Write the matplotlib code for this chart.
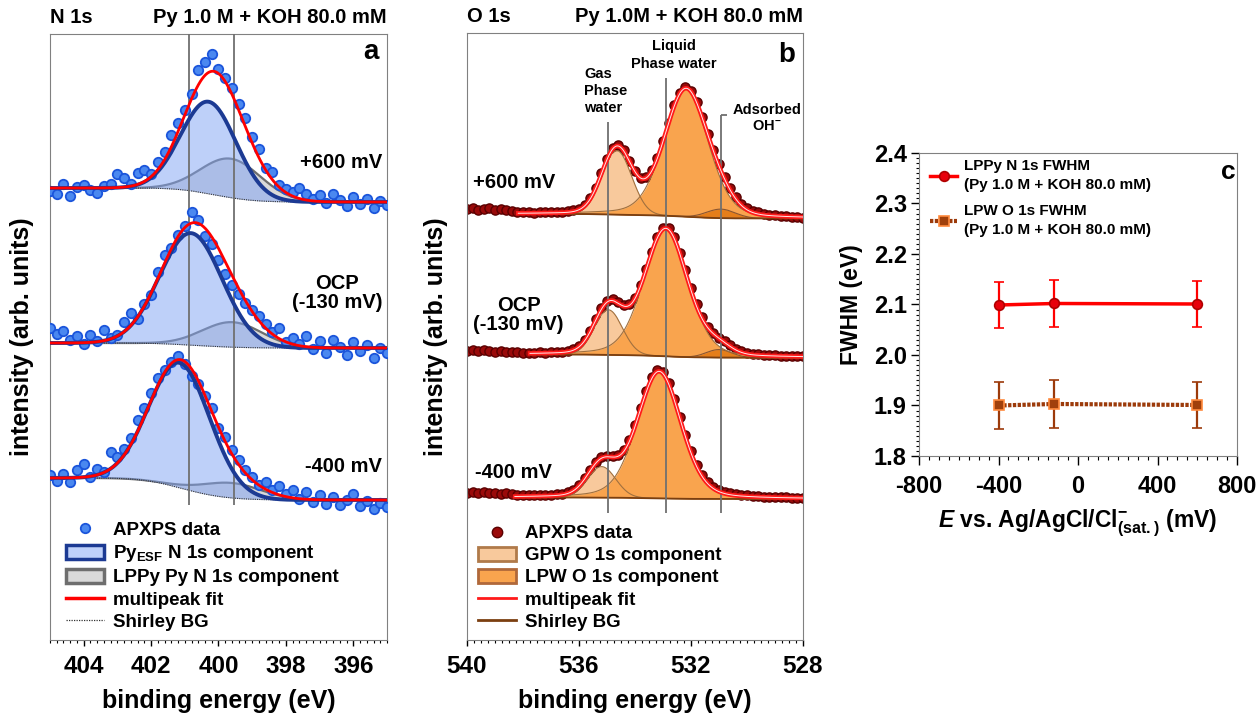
import numpy as np
import matplotlib
matplotlib.use('Agg')
import matplotlib.pyplot as plt
from matplotlib.lines import Line2D
from matplotlib.patches import Patch
from matplotlib.ticker import MultipleLocator

plt.rcParams.update({
    'font.family': ['Liberation Sans', 'DejaVu Sans'],
    'font.weight': 'bold',
    'axes.labelweight': 'bold',
    'mathtext.fontset': 'custom',
    'mathtext.rm': 'Liberation Sans:bold',
    'mathtext.bf': 'Liberation Sans:bold',
    'mathtext.it': 'Liberation Sans:bold:italic',
    'axes.unicode_minus': False,
})

# ---------------- Panel a : N 1s ----------------
N1S_ENERGY = [405.0, 404.8, 404.6, 404.4, 404.2, 404.0, 403.8, 403.6, 403.4, 403.2,
              403.0, 402.8, 402.6, 402.4, 402.2, 402.0, 401.8, 401.6, 401.4, 401.2,
              401.0, 400.8, 400.6, 400.4, 400.2, 400.0, 399.8, 399.6, 399.4, 399.2,
              399.0, 398.8, 398.6, 398.4, 398.2, 398.0, 397.8, 397.6, 397.4, 397.2,
              397.0, 396.8, 396.6, 396.4, 396.2, 396.0, 395.8, 395.6, 395.4, 395.2, 395.0]
N1S_P600 = [449, 446, 456, 444, 453, 455, 450, 447, 454, 456,
            466, 462, 456, 467, 470, 466, 478, 488, 505, 517,
            530, 546, 570, 578, 586, 571, 562, 552, 536, 522,
            503, 491, 472, 468, 455, 451, 448, 452, 446, 441,
            445, 437, 446, 440, 434, 443, 436, 441, 432, 439, 435]
N1S_OCP = [312, 306, 309, 300, 304, 296, 305, 299, 310, 302,
           305, 318, 327, 321, 336, 345, 368, 385, 392, 405,
           414, 428, 420, 404, 396, 380, 366, 355, 346, 337,
           330, 324, 316, 308, 312, 298, 302, 296, 304, 291,
           299, 287, 300, 293, 285, 298, 289, 295, 282, 292, 287]
N1S_M400 = [165, 159, 166, 158, 170, 176, 163, 171, 168, 188,
            183, 191, 202, 220, 232, 247, 262, 270, 278, 284,
            276, 264, 256, 244, 232, 212, 203, 190, 180, 170,
            163, 155, 158, 150, 154, 146, 150, 141, 148, 138,
            145, 136, 143, 135, 140, 146, 134, 139, 131, 137, 133]
N1S_LABELS = ['+600 mV', 'OCP\n(-130 mV)', '-400 mV']
N1S_ESF_CENTER = [400.29, 400.82, 401.15]
N1S_ESF_HEIGHT = [92, 112, 125]
N1S_ESF_FWHM = [1.93, 2.18, 2.13]
N1S_LPPY_CENTER = [399.62, 399.60, 399.60]
N1S_LPPY_HEIGHT = [39, 25, 15]
N1S_LPPY_FWHM = [2.10, 2.10, 2.10]
N1S_BG_HIGH = [452, 297, 162]
N1S_BG_LOW = [438, 292, 140]
N1S_MARKERS = [400.88, 399.55]

# ---------------- Panel b : O 1s ----------------
O1S_ENERGY = [540.0, 539.8, 539.6, 539.4, 539.2, 539.0, 538.8, 538.6, 538.4, 538.2,
              538.0, 537.8, 537.6, 537.4, 537.2, 537.0, 536.8, 536.6, 536.4, 536.2,
              536.0, 535.8, 535.6, 535.4, 535.2, 535.0, 534.8, 534.6, 534.4, 534.2,
              534.0, 533.8, 533.6, 533.4, 533.2, 533.0, 532.8, 532.6, 532.4, 532.2,
              532.0, 531.8, 531.6, 531.4, 531.2, 531.0, 530.8, 530.6, 530.4, 530.2,
              530.0, 529.8, 529.6, 529.4, 529.2, 529.0, 528.8, 528.6, 528.4, 528.2, 528.0]
O1S_P600 = [431, 432, 430, 431, 432, 430, 431, 430, 429, 428,
            428, 428, 427, 428, 428, 428, 428, 428, 429, 430,
            431, 435, 442, 452, 467, 481, 492, 495, 490, 479,
            469, 462, 463, 470, 482, 499, 517, 535, 547, 553,
            549, 538, 523, 506, 490, 476, 463, 452, 443, 436,
            432, 429, 428, 426, 425, 425, 424, 424, 423, 423, 422]
O1S_OCP = [289, 290, 289, 290, 289, 288, 289, 288, 288, 288,
           287, 287, 287, 288, 287, 288, 288, 288, 289, 291,
           294, 300, 309, 321, 332, 339, 341, 338, 335, 336,
           342, 355, 371, 388, 403, 412, 412, 403, 387, 370,
           352, 336, 323, 313, 307, 302, 299, 295, 291, 289,
           287, 286, 286, 285, 285, 285, 284, 284, 284, 284, 284]
O1S_M400 = [147, 148, 147, 148, 147, 147, 146, 147, 146, 145,
            145, 145, 145, 145, 145, 145, 146, 146, 148, 150,
            155, 162, 170, 178, 183, 184, 184, 185, 190, 200,
            215, 232, 249, 263, 270, 268, 257, 241, 223, 205,
            189, 175, 165, 158, 153, 150, 148, 147, 146, 145,
            145, 144, 144, 143, 143, 143, 143, 143, 142, 142, 142]
O1S_LABELS = ['+600 mV', 'OCP\n(-130 mV)', '-400 mV']
O1S_GPW_CENTER = [534.65, 534.95, 535.19]
O1S_GPW_HEIGHT = [64, 45, 31]
O1S_GPW_FWHM = [1.25, 1.18, 1.18]
O1S_LPW_CENTER = [532.18, 532.90, 533.14]
O1S_LPW_HEIGHT = [128, 128, 127]
O1S_LPW_FWHM = [1.85, 1.85, 1.85]
O1S_LPW_LORENTZ = 0.25
O1S_OH_CENTER = [530.93, 531.00, 531.00]
O1S_OH_HEIGHT = [9, 8, 0]
O1S_OH_FWHM = [1.20, 1.06, 1.06]
O1S_BG_HIGH = [426.0, 285.5, 142.5]
O1S_BG_LOW = [421.5, 282.3, 141.0]
O1S_FIT_START = [538.17, 537.75, 538.29]
O1S_MARKERS = [534.97, 532.90, 530.93]

# ---------------- Panel c : FWHM ----------------
E_MV = [-400, -120, 600]
LPPY_N1S_FWHM = [2.099, 2.102, 2.101]
LPPY_N1S_ERR = [0.046, 0.046, 0.046]
LPW_O1S_FWHM = [1.900, 1.903, 1.901]
LPW_O1S_ERR = [0.046, 0.047, 0.046]


def gauss(x, c, h, fwhm):
    return h * np.exp(-4 * np.log(2) * (x - c) ** 2 / fwhm ** 2)


def pvoigt(x, c, h, fwhm, eta):
    g = np.exp(-4 * np.log(2) * (x - c) ** 2 / fwhm ** 2)
    lor = 1.0 / (1.0 + 4 * (x - c) ** 2 / fwhm ** 2)
    return h * ((1 - eta) * g + eta * lor)


def shirley(x_asc, peaks, low, high):
    cum = np.cumsum(peaks)
    return low + (high - low) * cum / cum[-1]


W, H = 1259, 713
fig = plt.figure(figsize=(W / 100, H / 100), dpi=100)

SPINE = '#808080'
FS_TICK = 17.5
FS_LAB = 18

# ================= panel a =================
axa = fig.add_axes([50 / W, 1 - 640 / H, 337 / W, 606 / H])
xf = np.linspace(395, 405, 800)
n1s_data = [N1S_P600, N1S_OCP, N1S_M400]
for i in range(3):
    esf = gauss(xf, N1S_ESF_CENTER[i], N1S_ESF_HEIGHT[i], N1S_ESF_FWHM[i])
    lppy = gauss(xf, N1S_LPPY_CENTER[i], N1S_LPPY_HEIGHT[i], N1S_LPPY_FWHM[i])
    bg = shirley(xf, esf + lppy, N1S_BG_LOW[i], N1S_BG_HIGH[i])
    axa.fill_between(xf, bg, bg + lppy, color='#D9D9D9', lw=0, zorder=1)
    axa.plot(xf, bg + lppy, color='#6E6E6E', lw=1.6, zorder=1.5)
    axa.fill_between(xf, bg, bg + esf, color='#7FA3F5', alpha=0.5, lw=0, zorder=2)
    axa.plot(xf, bg, color='#333333', lw=0.8, ls=(0, (1, 1)), zorder=2.2)
    axa.plot(N1S_ENERGY, n1s_data[i], 'o', ms=6.8, mfc='#4A88F0', mec='#1B55DB',
             mew=1.3, zorder=4)
    axa.plot(xf, bg + esf, color='#1C3A93', lw=2.8, zorder=5)
    axa.plot(xf, bg + esf + lppy, color='#FF0000', lw=2.0, zorder=6)
axa.vlines(N1S_MARKERS, 135, 606, color='#707070', lw=1.3, zorder=3.5)
axa.set_xlim(405, 395)
axa.set_ylim(0, 606)
axa.set_yticks([])
axa.xaxis.set_major_locator(MultipleLocator(2))
axa.xaxis.set_minor_locator(MultipleLocator(0.2))
axa.tick_params(axis='x', which='major', direction='out', length=4, width=1,
                labelsize=FS_TICK, pad=7)
axa.tick_params(axis='x', which='minor', direction='out', length=2.5, width=0.8)
for s in axa.spines.values():
    s.set_color(SPINE)
axa.set_xlabel('binding energy (eV)', fontsize=FS_LAB, labelpad=8)
axa.set_ylabel('intensity (arb. units)', fontsize=FS_LAB)
axa.yaxis.set_label_coords(-0.047, 0.5)

axa.text(395.15, 478, N1S_LABELS[0], fontsize=14.5, ha='right', va='center')
axa.text(396.47, 347, N1S_LABELS[1], fontsize=14.5, ha='center', va='center',
         multialignment='center', linespacing=1.0)
axa.text(395.15, 174, N1S_LABELS[2], fontsize=14.5, ha='right', va='center')
axa.text(395.24, 588, 'a', fontsize=20, ha='right', va='center')
axa.text(0.0, 1.012, 'N 1s', transform=axa.transAxes, fontsize=14.5, ha='left', va='bottom')
axa.text(1.0, 1.012, 'Py 1.0 M + KOH 80.0 mM', transform=axa.transAxes, fontsize=14.5,
         ha='right', va='bottom')

ha_handles = [
    Line2D([], [], ls='none', marker='o', ms=6.8, mfc='#4A88F0', mec='#1B55DB', mew=1.3),
    Patch(facecolor='#BFD1FA', edgecolor='#1C3A93', lw=2.5),
    Patch(facecolor='#D9D9D9', edgecolor='#6E6E6E', lw=2.5),
    Line2D([], [], color='#FF0000', lw=2.5),
    Line2D([], [], color='#333333', lw=0.9, ls=(0, (1, 1))),
]
ha_labels = ['APXPS data', r'Py$_{\mathregular{ESF}}$ N 1s component',
             'LPPy Py N 1s component', 'multipeak fit', 'Shirley BG']
axa.legend(ha_handles, ha_labels, loc='lower left', bbox_to_anchor=(0.02, 0.0),
           frameon=False, fontsize=13.5, handlelength=2.0, handleheight=0.75,
           handletextpad=0.5, labelspacing=0.25, borderaxespad=0.2, borderpad=0.3)

# ================= panel b =================
axb = fig.add_axes([467 / W, 1 - 640 / H, 336 / W, 607 / H])
o1s_data = [O1S_P600, O1S_OCP, O1S_M400]
for i in range(3):
    xf = np.linspace(528, O1S_FIT_START[i], 500)
    gpw = gauss(xf, O1S_GPW_CENTER[i], O1S_GPW_HEIGHT[i], O1S_GPW_FWHM[i])
    lpw = pvoigt(xf, O1S_LPW_CENTER[i], O1S_LPW_HEIGHT[i], O1S_LPW_FWHM[i], O1S_LPW_LORENTZ)
    oh = gauss(xf, O1S_OH_CENTER[i], O1S_OH_HEIGHT[i], O1S_OH_FWHM[i])
    bg = shirley(xf, gpw + lpw + oh, O1S_BG_LOW[i], O1S_BG_HIGH[i])
    axb.plot(O1S_ENERGY, o1s_data[i], 'o', ms=6.6, mfc='#9A0A0A', mec='#5A0000',
             mew=1.0, zorder=1)
    axb.fill_between(xf, bg, bg + gpw, color='#F8C99C', lw=0, zorder=2)
    axb.fill_between(xf, bg, bg + lpw, color='#F9A44E', lw=0, zorder=2.1)
    if O1S_OH_HEIGHT[i] > 0:
        axb.fill_between(xf, bg, bg + oh, color='#E57E1A', lw=0, zorder=2.2)
        axb.plot(xf, bg + oh, color='#8A5530', lw=0.8, zorder=2.5)
    axb.plot(xf, bg + gpw, color='#A0703F', lw=0.8, zorder=2.5)
    axb.plot(xf, bg + lpw, color='#A0703F', lw=0.8, zorder=2.5)
    axb.plot(xf, bg, color='#7B3F10', lw=1.3, zorder=2.6)
    fit = bg + gpw + lpw + oh
    axb.plot(xf, fit, color='#FF1A1A', lw=3.2, zorder=5)
    axb.plot(xf, fit, color='#FFE6E6', lw=0.7, zorder=5.1)
line_tops = [518, 562, 525]
for xm, yt in zip(O1S_MARKERS, line_tops):
    axb.vlines(xm, 127, yt, color='#707070', lw=1.3, zorder=4)
axb.hlines(525, O1S_MARKERS[2], 530.72, color='#707070', lw=1.3, zorder=4)
axb.set_xlim(540, 528)
axb.set_ylim(0, 607)
axb.set_yticks([])
axb.xaxis.set_major_locator(MultipleLocator(4))
axb.xaxis.set_minor_locator(MultipleLocator(0.25))
axb.tick_params(axis='x', which='major', direction='out', length=4, width=1,
                labelsize=FS_TICK, pad=7)
axb.tick_params(axis='x', which='minor', direction='out', length=2.5, width=0.8)
for s in axb.spines.values():
    s.set_color(SPINE)
axb.set_xlabel('binding energy (eV)', fontsize=FS_LAB, labelpad=8)
axb.set_ylabel('intensity (arb. units)', fontsize=FS_LAB)
axb.yaxis.set_label_coords(-0.057, 0.5)

axb.text(539.79, 457, O1S_LABELS[0], fontsize=14.5, ha='left', va='center')
axb.text(538.16, 325, O1S_LABELS[1], fontsize=14.5, ha='center', va='center',
         multialignment='center', linespacing=1.0)
axb.text(539.71, 167, O1S_LABELS[2], fontsize=14.5, ha='left', va='center')
axb.text(528.29, 585, 'b', fontsize=20, ha='right', va='center')
axb.text(535.82, 549, 'Gas\nPhase\nwater', fontsize=10.5, ha='left', va='center',
         linespacing=1.3)
axb.text(532.6, 585, 'Liquid\nPhase water', fontsize=10.5, ha='center', va='center',
         multialignment='center', linespacing=1.3)
axb.text(529.29, 522, 'Adsorbed\nOH$^{\\mathregular{-}}$', fontsize=10.5, ha='center',
         va='center', multialignment='center', linespacing=1.2)
axb.text(0.0, 1.012, 'O 1s', transform=axb.transAxes, fontsize=14.5, ha='left', va='bottom')
axb.text(1.0, 1.012, 'Py 1.0M + KOH 80.0 mM', transform=axb.transAxes, fontsize=14.5,
         ha='right', va='bottom')

hb_handles = [
    Line2D([], [], ls='none', marker='o', ms=7.5, mfc='#9A0A0A', mec='#5A0000', mew=1.0),
    Patch(facecolor='#F8C99C', edgecolor='#B07A4A', lw=2.0),
    Patch(facecolor='#F9A44E', edgecolor='#B0683A', lw=2.0),
    Line2D([], [], color='#FF1A1A', lw=2.0),
    Line2D([], [], color='#7B3F10', lw=2.0),
]
hb_labels = ['APXPS data', 'GPW O 1s component', 'LPW O 1s component',
             'multipeak fit', 'Shirley BG']
axb.legend(hb_handles, hb_labels, loc='lower left', bbox_to_anchor=(0.005, 0.0),
           frameon=False, fontsize=13.5, handlelength=2.0, handleheight=0.75,
           handletextpad=0.5, labelspacing=0.25, borderaxespad=0.2, borderpad=0.3)

# ================= panel c =================
axc = fig.add_axes([919 / W, 1 - 456 / H, 318 / W, 303 / H])
axc.errorbar(E_MV, LPPY_N1S_FWHM, yerr=LPPY_N1S_ERR, color='#FF0000', lw=2.5,
             marker='o', ms=7, mfc='#E8000B', mec='#B00000', mew=1.2,
             ecolor='#FF0000', elinewidth=1.6, capsize=3.5, capthick=1.6, zorder=3)
axc.errorbar(E_MV, LPW_O1S_FWHM, yerr=LPW_O1S_ERR, color='#9C3A0A', lw=3.0,
             ls=(0, (0.8, 0.35)), marker='s', ms=7, mfc='#A0400C', mec='#FF8A3D',
             mew=1.2, ecolor='#9C3A0A', elinewidth=1.6, capsize=3.5, capthick=1.6,
             zorder=3)
axc.set_xlim(-800, 800)
axc.set_ylim(1.8, 2.4)
axc.xaxis.set_major_locator(MultipleLocator(400))
axc.xaxis.set_minor_locator(MultipleLocator(50))
axc.yaxis.set_major_locator(MultipleLocator(0.1))
axc.yaxis.set_minor_locator(MultipleLocator(0.01))
axc.yaxis.set_major_formatter(matplotlib.ticker.FormatStrFormatter('%.1f'))
axc.tick_params(axis='both', which='major', direction='out', labelsize=17, width=1)
axc.tick_params(axis='x', which='major', length=6.5, pad=7)
axc.tick_params(axis='x', which='minor', length=2.9, width=0.8)
axc.tick_params(axis='y', which='major', length=5.8, pad=3)
axc.tick_params(axis='y', which='minor', length=2.3, width=0.8)
for s in axc.spines.values():
    s.set_color(SPINE)
axc.set_xlabel(r'$\mathit{E}$ vs. Ag/AgCl/Cl$^{\mathregular{-}}_{\mathregular{(sat.)}}$ (mV)',
               fontsize=16.5, labelpad=7)
axc.set_ylabel('FWHM (eV)', fontsize=16.5)
axc.yaxis.set_label_coords(-0.176, 0.5)
axc.text(755, 2.362, 'c', fontsize=19, ha='center', va='center')

hc_handles = [
    Line2D([], [], color='#FF0000', lw=2.5, marker='o', ms=7, mfc='#E8000B',
           mec='#B00000', mew=1.2),
    Line2D([], [], color='#9C3A0A', lw=3.0, ls=(0, (0.8, 0.35)), marker='s', ms=7,
           mfc='#A0400C', mec='#FF8A3D', mew=1.2),
]
hc_labels = ['LPPy N 1s FWHM\n(Py 1.0 M + KOH 80.0 mM)',
             'LPW O 1s FWHM\n(Py 1.0 M + KOH 80.0 mM)']
legc = axc.legend(hc_handles, hc_labels, loc='upper left', bbox_to_anchor=(0.015, 1.0),
                  frameon=False, fontsize=11, handlelength=1.8, handletextpad=0.45,
                  labelspacing=0.8, borderaxespad=0.1, borderpad=0.3)
for t in legc.get_texts():
    t.set_linespacing(1.45)

fig.savefig('out.png', dpi=100)
